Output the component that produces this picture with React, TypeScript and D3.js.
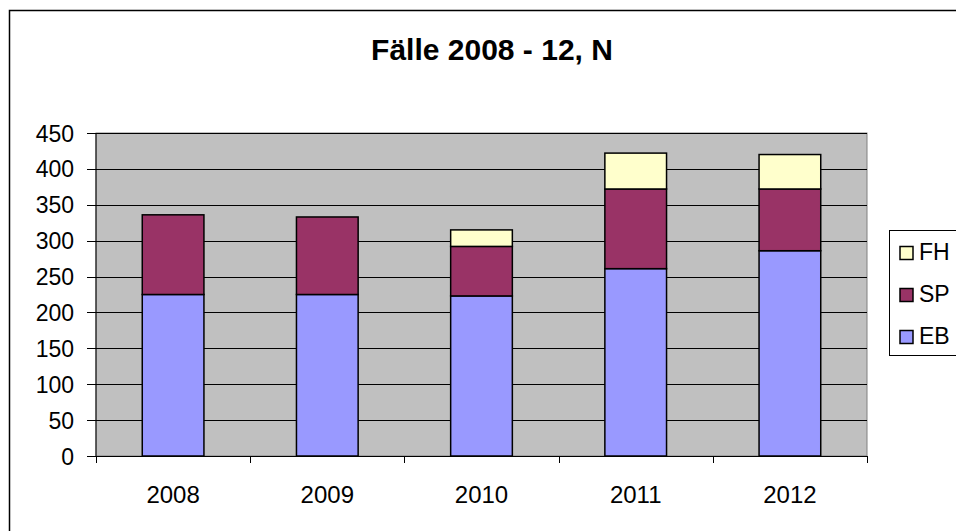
import React from "react";
import { scaleLinear, scaleBand, stack } from "d3";

// chart data
const years = ["2008", "2009", "2010", "2011", "2012"];
const ebValues = [225, 225, 223, 261, 286];
const spValues = [111, 108, 69, 111, 86];
const fhValues = [0, 0, 23, 50, 48];
const seriesKeys = ["EB", "SP", "FH"];
const yTicks = [0, 50, 100, 150, 200, 250, 300, 350, 400, 450];

const colours: Record<string, string> = { EB: "#9999FF", SP: "#993366", FH: "#FFFFCC" };
const font = "'Liberation Sans', Arial, sans-serif";

const W = 956, H = 531;
const plot = { left: 96, right: 867, top: 133, bottom: 456 };

export default function App() {
  const rows = years.map((yr, i) => ({ year: yr, EB: ebValues[i], SP: spValues[i], FH: fhValues[i] }));
  const layers = stack<any>().keys(seriesKeys)(rows);

  const x = scaleBand<string>().domain(years).range([plot.left, plot.right]).paddingInner(0.6).paddingOuter(0.3);
  const xEdges = scaleBand<string>().domain(years).range([plot.left, plot.right]).padding(0);
  const y = scaleLinear().domain([0, 450]).range([plot.bottom, plot.top]);

  const legendItems = ["FH", "SP", "EB"];

  return (
    <svg width={W} height={H} style={{ position: "absolute", left: 0, top: 0, background: "#fff" }}>
      {/* outer frame, clipped on right & bottom like the source */}
      <rect x={9.5} y={10.5} width={1200} height={1200} fill="none" stroke="#000" strokeWidth={1.5} />

      <text x={492} y={60} textAnchor="middle" fontFamily={font} fontWeight="bold" fontSize={30}>
        Fälle 2008 - 12, N
      </text>

      {/* plot area */}
      <rect x={plot.left} y={plot.top} width={plot.right - plot.left} height={plot.bottom - plot.top}
        fill="#C0C0C0" stroke="#808080" strokeWidth={1} />

      {yTicks.filter((t) => t > 0).map((t) => (
        <line key={"g" + t} x1={plot.left} x2={plot.right} y1={Math.round(y(t)) + 0.5} y2={Math.round(y(t)) + 0.5}
          stroke="#000" strokeWidth={1} />
      ))}

      {/* bars */}
      {layers.map((layer) => (
        <g key={layer.key}>
          {layer.map((d: any, i: number) => {
            if (d[1] - d[0] <= 0) return null;
            return (
              <rect key={i} x={x(years[i])} y={y(d[1])} width={x.bandwidth()} height={y(d[0]) - y(d[1])}
                fill={colours[layer.key]} stroke="#000" strokeWidth={1.5} />
            );
          })}
        </g>
      ))}

      {/* y axis */}
      <line x1={plot.left} x2={plot.left} y1={plot.top} y2={plot.bottom} stroke="#000" />
      {yTicks.map((t) => (
        <g key={"y" + t}>
          <line x1={plot.left - 9} x2={plot.left} y1={Math.round(y(t)) + 0.5} y2={Math.round(y(t)) + 0.5} stroke="#000" />
          <text x={74} y={y(t) + 8.5} textAnchor="end" fontFamily={font} fontSize={23}>{t}</text>
        </g>
      ))}

      {/* x axis */}
      <line x1={plot.left} x2={plot.right} y1={plot.bottom + 0.5} y2={plot.bottom + 0.5} stroke="#000" />
      {years.map((yr) => (
        <line key={"xt" + yr} x1={Math.round(xEdges(yr)!) + 0.5} x2={Math.round(xEdges(yr)!) + 0.5}
          y1={plot.bottom} y2={plot.bottom + 7} stroke="#000" />
      ))}
      <line x1={plot.right + 0.5} x2={plot.right + 0.5} y1={plot.bottom} y2={plot.bottom + 7} stroke="#000" />
      {years.map((yr) => (
        <text key={"xl" + yr} x={x(yr)! + x.bandwidth() / 2} y={502.5} textAnchor="middle" fontFamily={font} fontSize={24}>
          {yr}
        </text>
      ))}

      {/* legend */}
      <rect x={889.5} y={230.5} width={120} height={125} fill="#fff" stroke="#000" strokeWidth={1} />
      {legendItems.map((k, i) => (
        <g key={"l" + k} transform={`translate(0, ${259.5 + i * 42})`}>
          <rect x={900} y={-13} width={13} height={13} fill={colours[k]} stroke="#000" strokeWidth={1.5} />
          <text x={919} y={0} fontFamily={font} fontSize={23}>{k}</text>
        </g>
      ))}
    </svg>
  );
}
